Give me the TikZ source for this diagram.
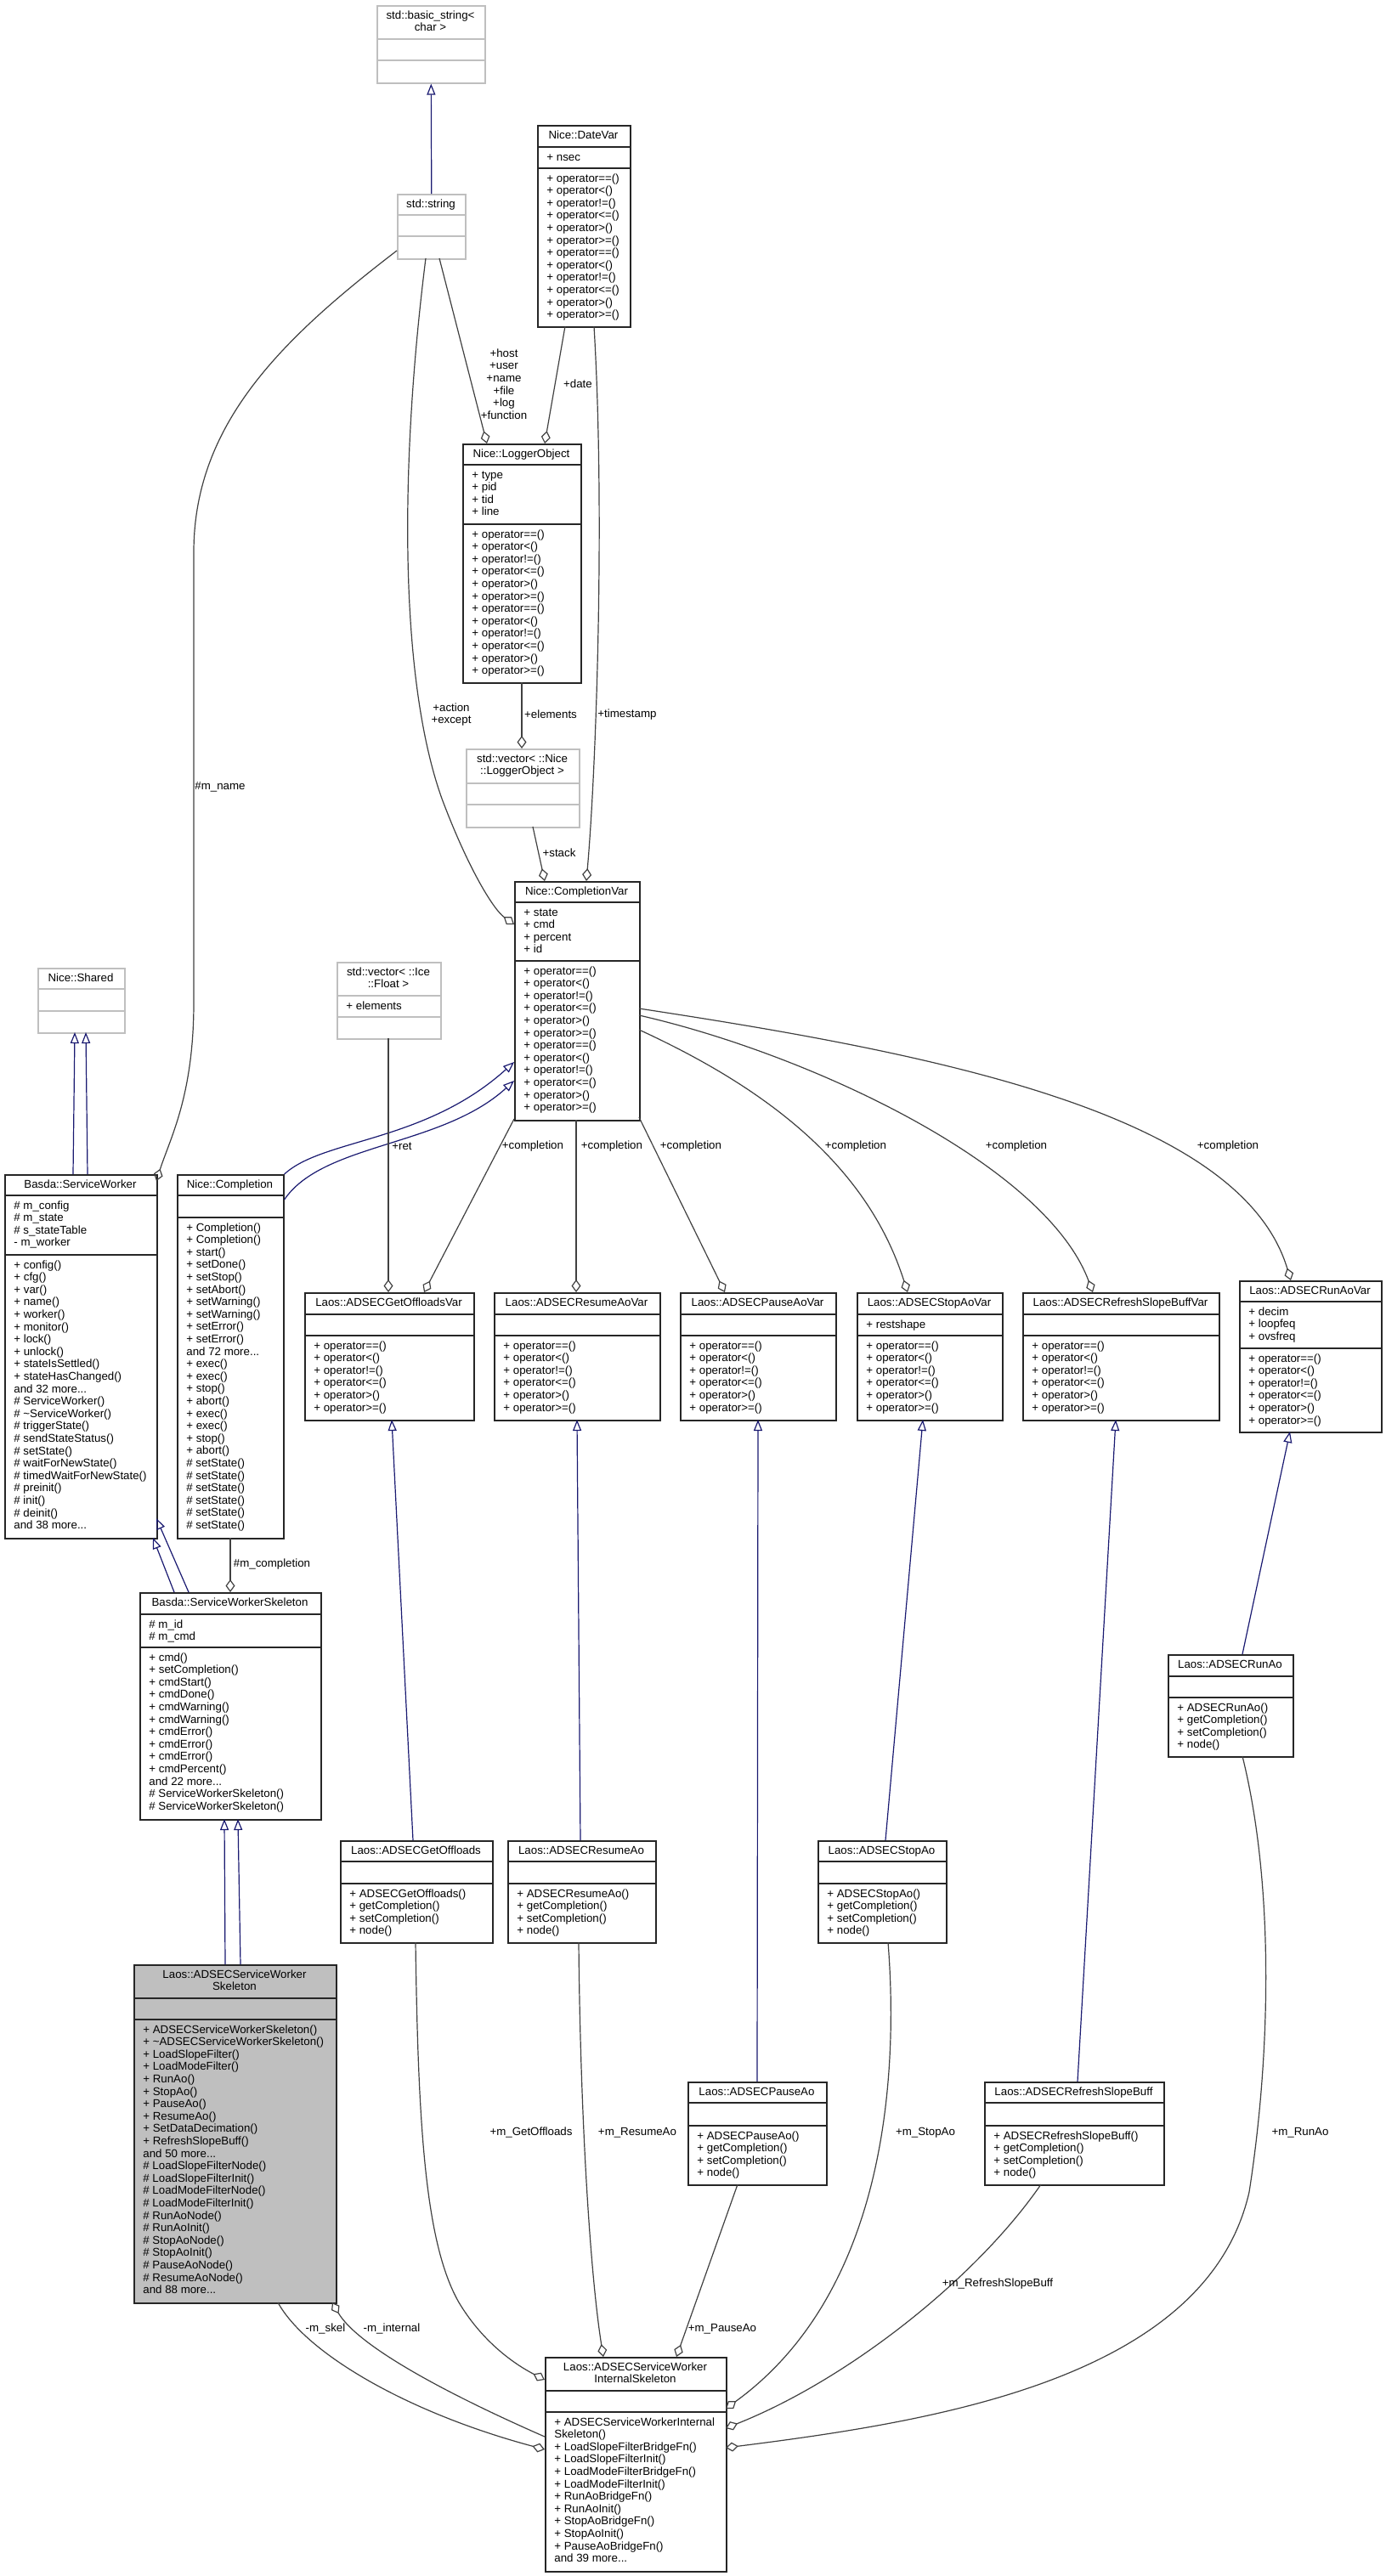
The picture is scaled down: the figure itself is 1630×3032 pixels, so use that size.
\documentclass[tikz,border=0pt]{standalone}
\usepackage{fontspec}
\setmainfont{Liberation Sans}
\usetikzlibrary{arrows.meta,calc}
\definecolor{edgegray}{HTML}{404040}
\definecolor{inhblue}{HTML}{191970}
\definecolor{boxgray}{HTML}{BFBFBF}

\tikzset{
  every node/.style={font=\fontsize{6.65pt}{7.3pt}\selectfont, inner sep=0pt},
  clsbox/.style={draw=black!85, line width=0.8pt},
  extbox/.style={draw=boxgray, line width=0.8pt},
  curbox/.style={draw=black!85, fill=boxgray, line width=0.8pt},
  inh/.style={draw=inhblue, line width=0.6pt, -{Triangle[open, length=6.5pt, width=5pt]}},
  agg/.style={draw=edgegray, line width=0.6pt, -{Diamond[open, length=7.5pt, width=5.5pt]}},
  lbl/.style={align=center},
}

\begin{document}
\begin{tikzpicture}[x=0.5pt, y=-0.5pt]
  \useasboundingbox (0,0) rectangle (1630,3032);

  % class boxes: name/style/left/top/width/sep1/sep2/bottom/title/attributes/operations
  \foreach \nm/\st/\x/\y/\w/\ya/\yb/\yc/\ttl/\att/\ops in {
    basic/extbox/443/6/127/46/71/97/{std::basic\_string<,char >}/{}/{},
    str/extbox/467/228/80/253/278/304/{std::string}/{}/{},
    datevar/clsbox/632/147/109/173/198/384/{Nice::DateVar}/{+ nsec}/{+ operator==(),+ operator<(),+ operator!=(),+ operator<=(),+ operator>(),+ operator>=(),+ operator==(),+ operator<(),+ operator!=(),+ operator<=(),+ operator>(),+ operator>=()},
    logger/clsbox/544/522/139/547/617/803/{Nice::LoggerObject}/{+ type,+ pid,+ tid,+ line}/{+ operator==(),+ operator<(),+ operator!=(),+ operator<=(),+ operator>(),+ operator>=(),+ operator==(),+ operator<(),+ operator!=(),+ operator<=(),+ operator>(),+ operator>=()},
    vlog/extbox/548/881/133/922/947/973/{std::vector< ::Nice,::LoggerObject >}/{}/{},
    cvar/clsbox/605/1037/147/1062/1131/1318/{Nice::CompletionVar}/{+ state,+ cmd,+ percent,+ id}/{+ operator==(),+ operator<(),+ operator!=(),+ operator<=(),+ operator>(),+ operator>=(),+ operator==(),+ operator<(),+ operator!=(),+ operator<=(),+ operator>(),+ operator>=()},
    vfloat/extbox/396/1132/122/1172/1197/1222/{std::vector< ::Ice,::Float >}/{+ elements}/{},
    shared/extbox/44/1139/102/1164/1190/1215/{Nice::Shared}/{}/{},
    worker/clsbox/5/1382/179/1407/1477/1810/{Basda::ServiceWorker}/{\# m\_config,\# m\_state,\# s\_stateTable,- m\_worker}/{+ config(),+ cfg(),+ var(),+ name(),+ worker(),+ monitor(),+ lock(),+ unlock(),+ stateIsSettled(),+ stateHasChanged(),and 32 more{...},\# ServiceWorker(),\# \textasciitilde ServiceWorker(),\# triggerState(),\# sendStateStatus(),\# setState(),\# waitForNewState(),\# timedWaitForNewState(),\# preinit(),\# init(),\# deinit(),and 38 more{...}},
    compl/clsbox/208/1382/125/1407/1433/1810/{Nice::Completion}/{}/{+ Completion(),+ Completion(),+ start(),+ setDone(),+ setStop(),+ setAbort(),+ setWarning(),+ setWarning(),+ setError(),+ setError(),and 72 more{...},+ exec(),+ exec(),+ stop(),+ abort(),+ exec(),+ exec(),+ stop(),+ abort(),\# setState(),\# setState(),\# setState(),\# setState(),\# setState(),\# setState()},
    skel/clsbox/164/1874/213/1900/1939/2141/{Basda::ServiceWorkerSkeleton}/{\# m\_id,\# m\_cmd}/{+ cmd(),+ setCompletion(),+ cmdStart(),+ cmdDone(),+ cmdWarning(),+ cmdWarning(),+ cmdError(),+ cmdError(),+ cmdError(),+ cmdPercent(),and 22 more{...},\# ServiceWorkerSkeleton(),\# ServiceWorkerSkeleton()},
    adskel/curbox/157/2312/238/2352/2377/2710/{Laos::ADSECServiceWorker\hspace{22pt},Skeleton}/{}/{+ ADSECServiceWorkerSkeleton(),+ \textasciitilde ADSECServiceWorkerSkeleton(),+ LoadSlopeFilter(),+ LoadModeFilter(),+ RunAo(),+ StopAo(),+ PauseAo(),+ ResumeAo(),+ SetDataDecimation(),+ RefreshSlopeBuff(),and 50 more{...},\# LoadSlopeFilterNode(),\# LoadSlopeFilterInit(),\# LoadModeFilterNode(),\# LoadModeFilterInit(),\# RunAoNode(),\# RunAoInit(),\# StopAoNode(),\# StopAoInit(),\# PauseAoNode(),\# ResumeAoNode(),and 88 more{...}},
    govar/clsbox/358/1521/199/1547/1572/1671/{Laos::ADSECGetOffloadsVar}/{}/{+ operator==(),+ operator<(),+ operator!=(),+ operator<=(),+ operator>(),+ operator>=()},
    rsvar/clsbox/581/1521/195/1547/1572/1671/{Laos::ADSECResumeAoVar}/{}/{+ operator==(),+ operator<(),+ operator!=(),+ operator<=(),+ operator>(),+ operator>=()},
    pavar/clsbox/800/1521/183/1547/1572/1671/{Laos::ADSECPauseAoVar}/{}/{+ operator==(),+ operator<(),+ operator!=(),+ operator<=(),+ operator>(),+ operator>=()},
    stvar/clsbox/1008/1521/171/1547/1572/1671/{Laos::ADSECStopAoVar}/{+ restshape}/{+ operator==(),+ operator<(),+ operator!=(),+ operator<=(),+ operator>(),+ operator>=()},
    rfvar/clsbox/1203/1521/231/1547/1572/1671/{Laos::ADSECRefreshSlopeBuffVar}/{}/{+ operator==(),+ operator<(),+ operator!=(),+ operator<=(),+ operator>(),+ operator>=()},
    runvar/clsbox/1458/1507/167/1532/1587/1685/{Laos::ADSECRunAoVar}/{+ decim,+ loopfeq,+ ovsfreq}/{+ operator==(),+ operator<(),+ operator!=(),+ operator<=(),+ operator>(),+ operator>=()},
    go/clsbox/400/2166/179/2191/2217/2286/{Laos::ADSECGetOffloads}/{}/{+ ADSECGetOffloads(),+ getCompletion(),+ setCompletion(),+ node()},
    rs/clsbox/597/2166/174/2191/2217/2286/{Laos::ADSECResumeAo}/{}/{+ ADSECResumeAo(),+ getCompletion(),+ setCompletion(),+ node()},
    st/clsbox/962/2166/151/2191/2217/2286/{Laos::ADSECStopAo}/{}/{+ ADSECStopAo(),+ getCompletion(),+ setCompletion(),+ node()},
    run/clsbox/1374/1947/147/1973/1998/2067/{Laos::ADSECRunAo}/{}/{+ ADSECRunAo(),+ getCompletion(),+ setCompletion(),+ node()},
    pa/clsbox/809/2450/163/2475/2502/2571/{Laos::ADSECPauseAo}/{}/{+ ADSECPauseAo(),+ getCompletion(),+ setCompletion(),+ node()},
    rf/clsbox/1158/2450/211/2475/2502/2571/{Laos::ADSECRefreshSlopeBuff}/{}/{+ ADSECRefreshSlopeBuff(),+ getCompletion(),+ setCompletion(),+ node()},
    internal/clsbox/641/2774/213/2814/2839/3026/{Laos::ADSECServiceWorker\hspace{7.5pt},InternalSkeleton}/{}/{+ ADSECServiceWorkerInternal,Skeleton(),+ LoadSlopeFilterBridgeFn(),+ LoadSlopeFilterInit(),+ LoadModeFilterBridgeFn(),+ LoadModeFilterInit(),+ RunAoBridgeFn(),+ RunAoInit(),+ StopAoBridgeFn(),+ StopAoInit(),+ PauseAoBridgeFn(),and 39 more{...}}} {
    \node[\st, anchor=north west, minimum width=\w*0.5pt, minimum height=(\yc-\y)*0.5pt] (\nm) at (\x,\y) {};
    \draw[\st] (\x,\ya) -- ++(\w,0) (\x,\yb) -- ++(\w,0);
    \foreach \ltxt [count=\idx] in \ttl
      \node[anchor=base] (\nm-t\idx) at ({\x+\w/2}, {\y+16+(\idx-1)*14.6}) {\ltxt};
    \foreach \ltxt [count=\idx] in \att
      \node[anchor=base west] (\nm-a\idx) at ({\x+11}, {\ya+16+(\idx-1)*14.6}) {\ltxt};
    \foreach \ltxt [count=\idx] in \ops
      \node[anchor=base west] (\nm-o\idx) at ({\x+11}, {\yb+16+(\idx-1)*14.6}) {\ltxt};
  }

  % inheritance
  \draw[inh] (str.north) -- (basic.south);
  \draw[inh] ([shift={(81,0)}]worker.north west) -- ([shift={(44,76)}]shared.north west);
  \draw[inh] ([shift={(98,0)}]worker.north west) -- ([shift={(57,76)}]shared.north west);
  \draw[inh] (compl.north east) .. controls (380,1340) and (500,1345) .. ([shift={(0,213)}]cvar.north west);
  \draw[inh] ([shift={(0,30)}]compl.north east) .. controls (380,1345) and (520,1350) .. ([shift={(0,235)}]cvar.north west);
  \draw[inh] ([shift={(41,0)}]skel.north west) -- ([shift={(175,428)}]worker.north west);
  \draw[inh] ([shift={(58,0)}]skel.north west) -- ([shift={(179,405)}]worker.north west);
  \draw[inh] ([shift={(108,0)}]adskel.north west) -- ([shift={(100,267)}]skel.north west);
  \draw[inh] ([shift={(126,0)}]adskel.north west) -- ([shift={(116,267)}]skel.north west);
  \draw[inh] ([shift={(86,0)}]go.north west) -- ([shift={(103,150)}]govar.north west);
  \draw[inh] ([shift={(86,0)}]rs.north west) -- ([shift={(98,150)}]rsvar.north west);
  \draw[inh] ([shift={(82,0)}]pa.north west) -- ([shift={(92,150)}]pavar.north west);
  \draw[inh] ([shift={(80,0)}]st.north west) -- ([shift={(78,150)}]stvar.north west);
  \draw[inh] ([shift={(110,0)}]rf.north west) -- ([shift={(110,150)}]rfvar.north west);
  \draw[inh] ([shift={(88,0)}]run.north west) -- ([shift={(60,178)}]runvar.north west);

  % members
  \draw[agg] ([shift={(0,67)}]str.north west) .. controls (330,400) and (228,500) .. (228,650) -- (228,1180) .. controls (228,1290) and (200,1340) .. ([shift={(179,8)}]worker.north west);
  \draw[agg] ([shift={(50,76)}]str.north west) -- ([shift={(29,0)}]logger.north west);
  \draw[agg] ([shift={(33,237)}]datevar.north west) -- ([shift={(97,0)}]logger.north west);
  \draw[agg] ([shift={(70,281)}]logger.north west) -- ([shift={(66,0)}]vlog.north west);
  \draw[agg] ([shift={(34,76)}]str.north west) .. controls (470,550) and (470,800) .. (520,940) .. controls (550,1020) and (580,1070) .. ([shift={(0,51)}]cvar.north west);
  \draw[agg] ([shift={(67,237)}]datevar.north west) .. controls (712,600) and (702,900) .. ([shift={(85,0)}]cvar.north west);
  \draw[agg] ([shift={(79,92)}]vlog.north west) -- ([shift={(36,0)}]cvar.north west);
  \draw[agg] ([shift={(61,90)}]vfloat.north west) -- ([shift={(99,0)}]govar.north west);
  \draw[agg] ([shift={(0,280)}]cvar.north west) -- ([shift={(141,0)}]govar.north west);
  \draw[agg] ([shift={(73,281)}]cvar.north west) -- ([shift={(97,0)}]rsvar.north west);
  \draw[agg] ([shift={(147,278)}]cvar.north west) -- ([shift={(53,0)}]pavar.north west);
  \draw[agg] ([shift={(147,175)}]cvar.north west) .. controls (900,1280) and (1020,1370) .. ([shift={(60,0)}]stvar.north west);
  \draw[agg] ([shift={(147,158)}]cvar.north west) .. controls (950,1240) and (1230,1370) .. ([shift={(83,0)}]rfvar.north west);
  \draw[agg] ([shift={(147,150)}]cvar.north west) .. controls (1100,1240) and (1460,1310) .. ([shift={(61,0)}]runvar.north west);
  \draw[agg] ([shift={(63,428)}]compl.north west) -- ([shift={(107,0)}]skel.north west);
  \draw[agg] ([shift={(170,398)}]adskel.north west) .. controls (360,2770) and (480,2840) .. ([shift={(0,109)}]internal.north west);
  \draw[agg] ([shift={(0,94)}]internal.north west) .. controls (520,2815) and (420,2760) .. ([shift={(234,398)}]adskel.north west);
  \draw[agg] ([shift={(89,120)}]go.north west) .. controls (492,2500) and (500,2640) .. (540,2710) .. controls (570,2760) and (610,2785) .. ([shift={(0,27)}]internal.north west);
  \draw[agg] ([shift={(84,120)}]rs.north west) .. controls (683,2500) and (695,2680) .. ([shift={(69,0)}]internal.north west);
  \draw[agg] ([shift={(59,121)}]pa.north west) -- ([shift={(155,0)}]internal.north west);
  \draw[agg] ([shift={(83,120)}]st.north west) .. controls (1058,2450) and (1040,2700) .. ([shift={(213,61)}]internal.north west);
  \draw[agg] ([shift={(67,121)}]rf.north west) .. controls (1150,2680) and (1000,2800) .. ([shift={(213,84)}]internal.north west);
  \draw[agg] ([shift={(88,120)}]run.north west) .. controls (1500,2220) and (1495,2420) .. (1470,2580) .. controls (1420,2800) and (1100,2850) .. ([shift={(213,107)}]internal.north west);

  % edge labels
  \node[lbl] (lmname) at (259,926) {\#m\_name};
  \node[lbl] (lhost) at (593,452) {+host\\+user\\+name\\+file\\+log\\+function};
  \node[lbl] (ldate) at (680,452) {+date};
  \node[lbl] (lelem) at (648,841) {+elements};
  \node[lbl] (lact) at (531,841) {+action\\+except};
  \node[lbl] (lstamp) at (738,841) {+timestamp};
  \node[lbl] (lstack) at (658,1004) {+stack};
  \node[lbl] (lret) at (473,1349) {+ret};
  \foreach \cx [count=\idx] in {627,720,813,1007,1196,1445}
    \node[lbl] (lcomp\idx) at (\cx,1349) {+completion};
  \node[lbl] (lmcompl) at (320,1841) {\#m\_completion};
  \node[lbl] (lskel) at (383,2741) {-m\_skel};
  \node[lbl] (linternal) at (461,2741) {-m\_internal};
  \node[lbl] (lgo) at (625,2510) {+m\_GetOffloads};
  \node[lbl] (lrs) at (750,2510) {+m\_ResumeAo};
  \node[lbl] (lpa) at (850,2741) {+m\_PauseAo};
  \node[lbl] (lst) at (1089,2510) {+m\_StopAo};
  \node[lbl] (lrf) at (1174,2688) {+m\_RefreshSlopeBuff};
  \node[lbl] (lrun) at (1530,2510) {+m\_RunAo};
\end{tikzpicture}
\end{document}
